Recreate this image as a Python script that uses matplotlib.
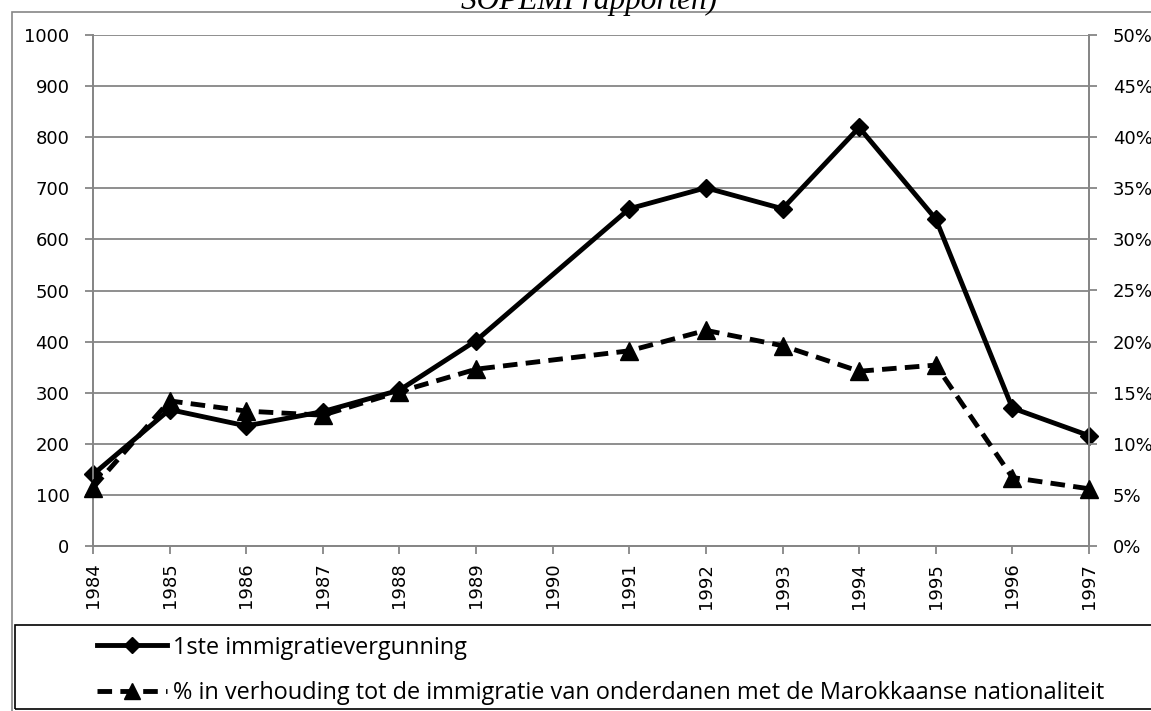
import matplotlib.pyplot as plt
from matplotlib.lines import Line2D
from matplotlib.patches import Rectangle
from matplotlib.ticker import FuncFormatter

# waarden (1990 ontbreekt)
jaren = ['1984', '1985', '1986', '1987', '1988', '1989', '1990',
         '1991', '1992', '1993', '1994', '1995', '1996', '1997']
vergunningen = [140, 267, 235, 263, 305, 402, None, 660, 701, 660, 819, 640, 270, 216]
aandeel_pct = [5.7, 14.2, 13.2, 12.8, 15.1, 17.3, None, 19.1, 21.1, 19.6, 17.1, 17.7, 6.7, 5.6]

label_1 = '1ste immigratievergunning'
label_2 = '% in verhouding tot de immigratie van onderdanen met de Marokkaanse nationaliteit'

W, H = 1151, 711
fig = plt.figure(figsize=(W / 100, H / 100), dpi=100)
grijs = '#868686'

# buitenkader van de (afgesneden) grafiek
fig.patches.append(Rectangle((12 / W, -0.1), 1.2, 1.1 - 12 / H, transform=fig.transFigure,
                             fill=False, edgecolor=grijs, linewidth=1.2))

# titel, bovenaan afgesneden
fig.text(589 / W, 1 - 9 / H, 'SOPEMI rapporten)', ha='center', va='baseline',
         family='Liberation Serif', style='italic', fontsize=22.5)

ax = fig.add_axes([93 / W, 1 - 546 / H, 996 / W, 511 / H])
ax2 = ax.twinx()

x = list(range(len(jaren)))
x1 = [i for i, v in zip(x, vergunningen) if v is not None]
y1 = [v for v in vergunningen if v is not None]
x2 = [i for i, v in zip(x, aandeel_pct) if v is not None]
y2 = [v for v in aandeel_pct if v is not None]

ax.plot(x1, y1, color='black', linewidth=3.5, marker='D', markersize=9.5, clip_on=False, zorder=3)
ax2.plot(x2, y2, color='black', linewidth=3.5, linestyle=(0, (3, 1.7)), marker='^',
         markersize=13.5, clip_on=False, zorder=3)

ax.set_xlim(0, len(jaren) - 1)
ax.set_ylim(0, 1000)
ax2.set_ylim(0, 50)
ax.set_yticks(range(0, 1001, 100))
ax2.set_yticks(range(0, 51, 5))
ax2.yaxis.set_major_formatter(FuncFormatter(lambda v, p: f'{v:.0f}%'))
ax.set_xticks(x)
ax.set_xticklabels(jaren, rotation=90)

ax.grid(axis='y', color=grijs, linewidth=1.3)
ax.set_axisbelow(True)
for a in (ax, ax2):
    for s in a.spines.values():
        s.set_color(grijs)
        s.set_linewidth(1.3)
    a.spines['top'].set_visible(False)
    a.tick_params(color=grijs, width=1.3, length=6, labelsize=13, labelcolor='black')
ax.tick_params(axis='y', pad=11)
ax2.tick_params(axis='y', pad=11)
ax.tick_params(axis='x', pad=6)
for t in ax.get_xticklabels() + ax.get_yticklabels() + ax2.get_yticklabels():
    t.set_family('DejaVu Sans')

# legenda onder de grafiek
fig.patches.append(Rectangle((15 / W, 1 - 709 / H), 1.2, (709 - 625) / H,
                             transform=fig.transFigure, fill=False, edgecolor='black', linewidth=1.2))
h1 = Line2D([], [], color='black', linewidth=3.5, marker='D', markersize=8.5)
h2 = Line2D([], [], color='black', linewidth=3.5, linestyle=(0, (3, 1.7)), marker='^', markersize=12)
fig.legend([h1, h2], [label_1, label_2], loc='center left', bbox_to_anchor=(97 / W, 1 - 670.5 / H),
           frameon=False, handlelength=3.0, handletextpad=0.25, labelspacing=0.93,
           prop={'family': 'Open Sans', 'size': 16.9}, borderaxespad=0, borderpad=0)

fig.savefig('out.png', dpi=100)
